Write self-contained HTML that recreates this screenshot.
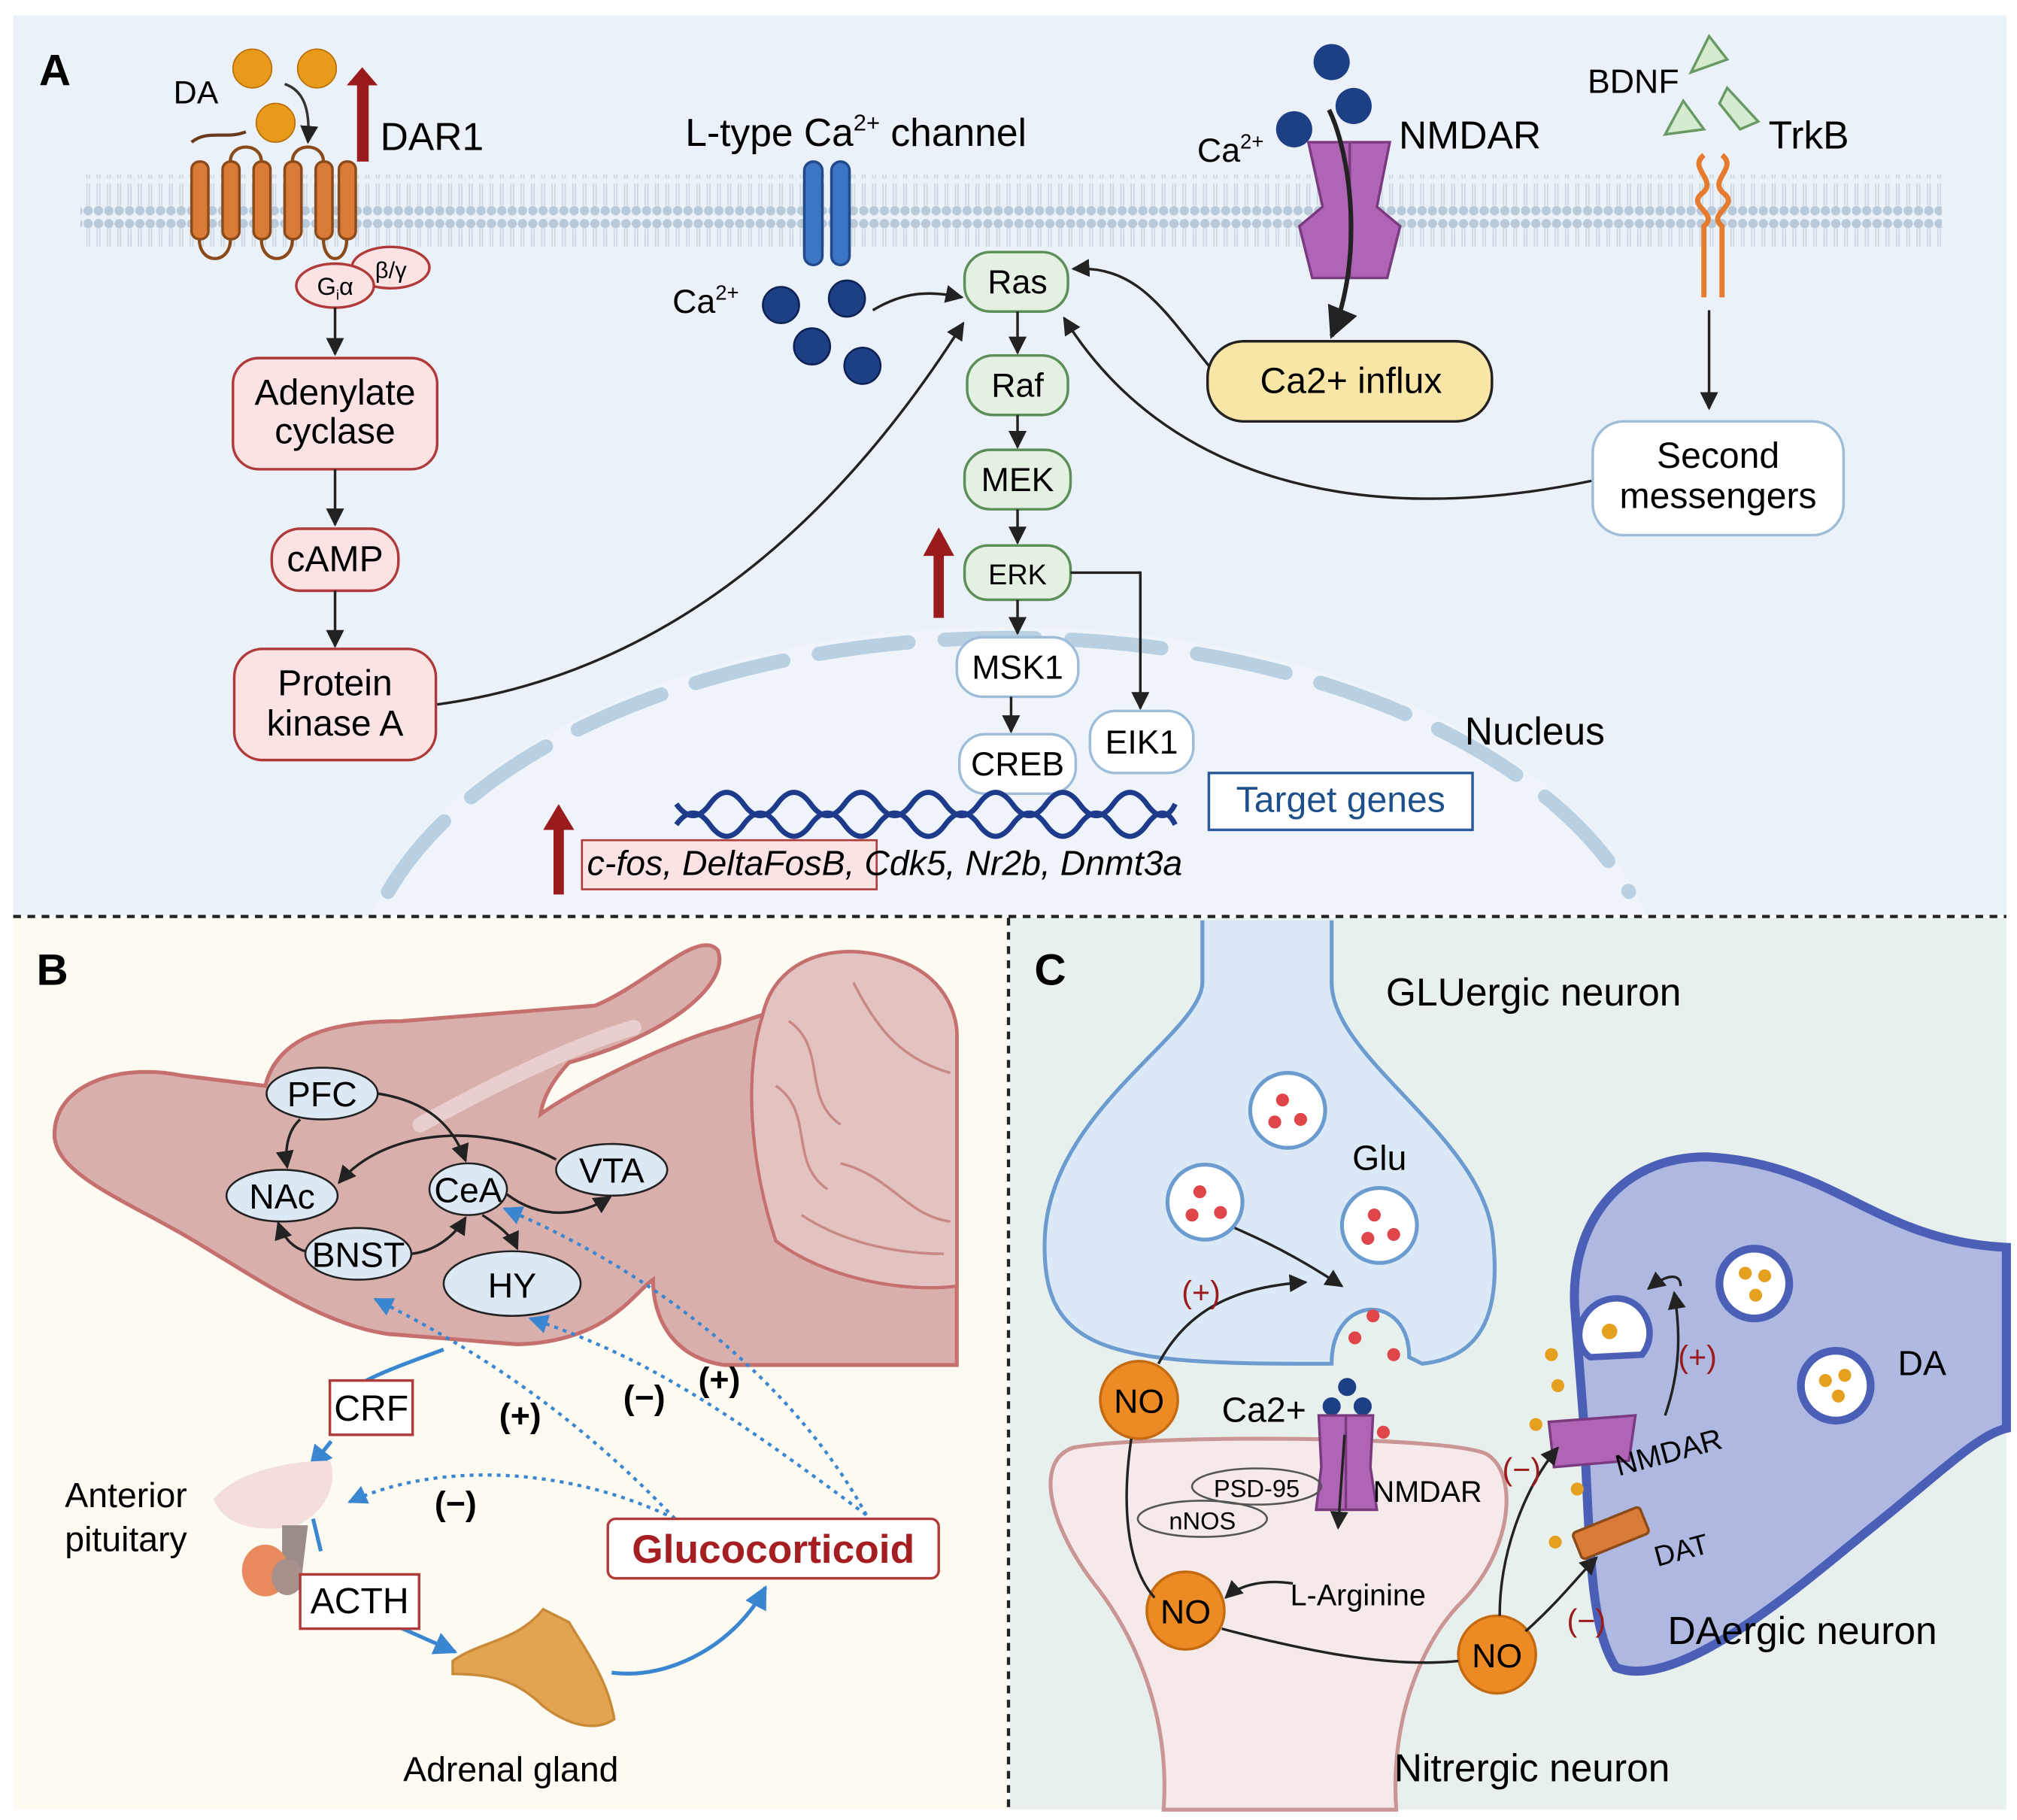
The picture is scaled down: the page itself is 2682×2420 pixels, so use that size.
<!DOCTYPE html>
<html><head><meta charset="utf-8"><style>html,body{margin:0;padding:0;background:#fff}svg{display:block}text{font-family:"Liberation Sans",sans-serif}</style></head><body>
<svg width="2682" height="2420" viewBox="0 0 1560 1408" xmlns="http://www.w3.org/2000/svg">
<defs>
<marker id="ak" viewBox="0 0 10 10" refX="9" refY="5" markerWidth="7" markerHeight="7" orient="auto"><path d="M0,0L10,5L0,10z" fill="#222"/></marker>
<marker id="ab" viewBox="0 0 10 10" refX="9" refY="5" markerWidth="6" markerHeight="6" orient="auto"><path d="M0,0L10,5L0,10z" fill="#3a86d0"/></marker>
<pattern id="lip" width="8" height="56" patternUnits="userSpaceOnUse"><circle cx="4" cy="5" r="3.6" fill="#b9c9d8"/><circle cx="4" cy="51" r="3.6" fill="#b9c9d8"/><line x1="3" y1="9" x2="3" y2="26" stroke="#c9d6e2" stroke-width="1"/><line x1="5" y1="9" x2="5" y2="26" stroke="#c9d6e2" stroke-width="1"/><line x1="3" y1="30" x2="3" y2="47" stroke="#c9d6e2" stroke-width="1"/><line x1="5" y1="30" x2="5" y2="47" stroke="#c9d6e2" stroke-width="1"/></pattern>
<clipPath id="clipA"><rect x="10" y="12" width="1542" height="696"/></clipPath>
</defs>
<rect width="1560" height="1408" fill="#fff"/>
<rect x="10" y="12" width="1542" height="696" fill="#eaf1f9"/>
<rect x="10" y="710" width="770" height="690" fill="#fdfaf1"/>
<rect x="781" y="710" width="771" height="690" fill="#e7f0ed"/>

<!-- ===== PANEL A ===== -->
<g clip-path="url(#clipA)">
<ellipse cx="780" cy="770" rx="505" ry="285" fill="#eef4fa"/>
<path d="M300,690 A505,285 0 0 1 1260,690" fill="none" stroke="#b9d0e2" stroke-width="11" stroke-dasharray="70,28" stroke-linecap="round"/>
</g>
<line x1="10" y1="709" x2="1552" y2="709" stroke="#222" stroke-width="2.5" stroke-dasharray="6,5"/>
<line x1="780" y1="710" x2="780" y2="1400" stroke="#222" stroke-width="2.5" stroke-dasharray="6,5"/>
<rect x="62" y="135" width="1440" height="56" fill="url(#lip)"/>
<text x="30" y="66" font-size="34" font-weight="bold">A</text>

<circle cx="195" cy="53" r="15" fill="#e89a1a" stroke="#b96f08"/>
<circle cx="245" cy="53" r="15" fill="#e89a1a" stroke="#b96f08"/>
<circle cx="213" cy="95" r="15" fill="#e89a1a" stroke="#b96f08"/>
<text x="134" y="80" font-size="25">DA</text>
<path d="M220,65 C235,70 240,85 238,110" fill="none" stroke="#333" stroke-width="2" marker-end="url(#ak)"/>
<path d="M190,102 C175,108 160,100 148,110" fill="none" stroke="#6b3a1c" stroke-width="2.5"/>
<g fill="#d97a36" stroke="#8b4a1a" stroke-width="2">
<rect x="148" y="125" width="13" height="60" rx="6"/><rect x="172" y="125" width="13" height="60" rx="6"/><rect x="196" y="125" width="13" height="60" rx="6"/><rect x="220" y="125" width="13" height="60" rx="6"/><rect x="244" y="125" width="13" height="60" rx="6"/><rect x="262" y="125" width="13" height="60" rx="6"/></g>
<path d="M154,185 C154,205 178,205 178,185 M202,185 C202,205 226,205 226,185 M250,185 C250,205 268,205 268,185 M178,125 C178,110 202,110 202,125 M226,125 C226,110 250,110 250,125" fill="none" stroke="#8b4a1a" stroke-width="2.5"/>
<rect x="276" y="60" width="9" height="65" fill="#9a1b1b"/><path d="M268,66 L280,52 L292,66z" fill="#9a1b1b"/>
<text x="294" y="116" font-size="30">DAR1</text>
<ellipse cx="302" cy="207" rx="30" ry="16" fill="#fbe3e3" stroke="#b03a3a" stroke-width="2"/>
<text x="290" y="215" font-size="18">β/γ</text>
<ellipse cx="259" cy="221" rx="30" ry="17" fill="#fbe3e3" stroke="#b03a3a" stroke-width="2"/>
<text x="245" y="228" font-size="19">G<tspan font-size="11" dy="4">i</tspan><tspan dy="-4">α</tspan></text>
<line x1="259" y1="238" x2="259" y2="274" stroke="#222" stroke-width="2" marker-end="url(#ak)"/>
<rect x="180" y="277" width="158" height="86" rx="20" fill="#fbe3e3" stroke="#b03a3a" stroke-width="2"/>
<text x="259" y="313" font-size="28" text-anchor="middle">Adenylate</text><text x="259" y="343" font-size="28" text-anchor="middle">cyclase</text>
<line x1="259" y1="363" x2="259" y2="406" stroke="#222" stroke-width="2" marker-end="url(#ak)"/>
<rect x="210" y="409" width="98" height="48" rx="22" fill="#fbe3e3" stroke="#b03a3a" stroke-width="2"/>
<text x="259" y="442" font-size="28" text-anchor="middle">cAMP</text>
<line x1="259" y1="457" x2="259" y2="500" stroke="#222" stroke-width="2" marker-end="url(#ak)"/>
<rect x="181" y="502" width="156" height="86" rx="22" fill="#fbe3e3" stroke="#b03a3a" stroke-width="2"/>
<text x="259" y="538" font-size="28" text-anchor="middle">Protein</text><text x="259" y="569" font-size="28" text-anchor="middle">kinase A</text>
<path d="M338,545 C520,520 650,400 745,250" fill="none" stroke="#222" stroke-width="2" marker-end="url(#ak)"/>

<text x="530" y="113" font-size="30">L-type Ca<tspan font-size="18" dy="-12">2+</tspan><tspan dy="12"> channel</tspan></text>
<rect x="622" y="125" width="14" height="80" rx="7" fill="#3b75c3" stroke="#22498a" stroke-width="2"/>
<rect x="643" y="125" width="14" height="80" rx="7" fill="#3b75c3" stroke="#22498a" stroke-width="2"/>
<text x="520" y="242" font-size="26">Ca<tspan font-size="16" dy="-10">2+</tspan></text>
<g fill="#1d3f85" stroke="#0d2255" stroke-width="1.5">
<circle cx="604" cy="236" r="14"/><circle cx="655" cy="231" r="14"/><circle cx="628" cy="268" r="14"/><circle cx="667" cy="283" r="14"/></g>
<path d="M675,240 C700,225 720,225 744,230" fill="none" stroke="#222" stroke-width="2" marker-end="url(#ak)"/>

<g fill="#e4f1e2" stroke="#5c8e58" stroke-width="2">
<rect x="746" y="195" width="80" height="46" rx="20"/><rect x="748" y="275" width="78" height="46" rx="20"/><rect x="746" y="348" width="82" height="46" rx="20"/><rect x="746" y="422" width="82" height="42" rx="18"/></g>
<text x="787" y="227" font-size="26" text-anchor="middle">Ras</text>
<text x="787" y="307" font-size="26" text-anchor="middle">Raf</text>
<text x="787" y="380" font-size="26" text-anchor="middle">MEK</text>
<text x="787" y="452" font-size="22" text-anchor="middle">ERK</text>
<g stroke="#222" stroke-width="2"><line x1="787" y1="241" x2="787" y2="273" marker-end="url(#ak)"/><line x1="787" y1="321" x2="787" y2="346" marker-end="url(#ak)"/><line x1="787" y1="394" x2="787" y2="420" marker-end="url(#ak)"/><line x1="787" y1="464" x2="787" y2="490" marker-end="url(#ak)"/></g>
<path d="M828,443 L882,443 L882,548" fill="none" stroke="#222" stroke-width="2" marker-end="url(#ak)"/>
<rect x="722" y="426" width="8" height="52" fill="#9a1b1b"/><path d="M714,430 L726,408 L738,430z" fill="#9a1b1b"/>
<g fill="#fff" stroke="#9fbcd8" stroke-width="2">
<rect x="740" y="493" width="94" height="46" rx="20"/><rect x="742" y="568" width="90" height="46" rx="20"/><rect x="843" y="550" width="80" height="48" rx="20"/></g>
<text x="787" y="525" font-size="26" text-anchor="middle">MSK1</text>
<line x1="782" y1="539" x2="782" y2="566" stroke="#222" stroke-width="2" marker-end="url(#ak)"/>
<text x="787" y="600" font-size="26" text-anchor="middle">CREB</text>
<text x="883" y="583" font-size="26" text-anchor="middle">EIK1</text>
<text x="1133" y="576" font-size="30">Nucleus</text>
<rect x="935" y="598" width="204" height="44" fill="#fff" stroke="#2b5a9a" stroke-width="2"/>
<text x="1037" y="628" font-size="28" text-anchor="middle" fill="#1d4f8a">Target genes</text>
<path d="M523,622 Q536,640 549,622 T575,622 T601,622 T627,622 T653,622 T679,622 T705,622 T731,622 T757,622 T783,622 T809,622 T835,622 T861,622 T887,622 T909,622" fill="none" stroke="#1e3a8a" stroke-width="4"/>
<path d="M523,638 Q536,620 549,638 T575,638 T601,638 T627,638 T653,638 T679,638 T705,638 T731,638 T757,638 T783,638 T809,638 T835,638 T861,638 T887,638 T909,638" fill="none" stroke="#1e3a8a" stroke-width="4"/>
<rect x="428" y="640" width="8" height="52" fill="#9a1b1b"/><path d="M420,642 L432,622 L444,642z" fill="#9a1b1b"/>
<rect x="450" y="650" width="228" height="38" fill="#fbe3e3" stroke="#b03a3a" stroke-width="1.5"/>
<text x="454" y="677" font-size="27" font-style="italic">c-fos, DeltaFosB, Cdk5, Nr2b, Dnmt3a</text>

<g fill="#1d3f85"><circle cx="1030" cy="48" r="14"/><circle cx="1047" cy="82" r="14"/><circle cx="1001" cy="100" r="14"/></g>
<text x="926" y="125" font-size="26">Ca<tspan font-size="16" dy="-10">2+</tspan></text>
<text x="1082" y="115" font-size="30">NMDAR</text>
<path d="M1012,110 L1075,110 L1065,160 L1083,175 L1073,215 L1015,215 L1005,175 L1023,160z" fill="#b064b5" stroke="#7a3a80" stroke-width="2"/>
<line x1="1044" y1="110" x2="1044" y2="215" stroke="#7a3a80" stroke-width="2"/>
<path d="M1028,85 C1045,120 1055,200 1030,260" fill="none" stroke="#222" stroke-width="3.5" marker-end="url(#ak)"/>
<rect x="934" y="264" width="220" height="62" rx="28" fill="#f9e6a6" stroke="#222" stroke-width="2"/>
<text x="1045" y="304" font-size="28" text-anchor="middle">Ca2+ influx</text>
<path d="M935,283 C900,240 880,205 830,208" fill="none" stroke="#222" stroke-width="2" marker-end="url(#ak)"/>

<text x="1228" y="72" font-size="26">BDNF</text>
<g fill="#d5ebcf" stroke="#6a9a64" stroke-width="2"><path d="M1308,56 L1322,28 L1336,46z"/><path d="M1288,104 L1302,78 L1318,100z"/><path d="M1330,80 L1346,100 L1360,94 L1336,68z"/></g>
<text x="1368" y="115" font-size="30">TrkB</text>
<path d="M1318,120 C1305,130 1330,140 1316,150 C1305,160 1330,165 1318,175 L1318,230 M1332,120 C1345,130 1320,140 1334,150 C1345,160 1320,165 1332,175 L1332,230" fill="none" stroke="#e57b2e" stroke-width="4"/>
<line x1="1322" y1="240" x2="1322" y2="316" stroke="#222" stroke-width="2" marker-end="url(#ak)"/>
<rect x="1232" y="326" width="194" height="88" rx="24" fill="#fff" stroke="#9fbcd8" stroke-width="2"/>
<text x="1329" y="362" font-size="28" text-anchor="middle">Second</text><text x="1329" y="393" font-size="28" text-anchor="middle">messengers</text>
<path d="M1231,372 C1050,410 900,370 823,246" fill="none" stroke="#222" stroke-width="2" marker-end="url(#ak)"/>

<!-- ===== PANEL B ===== -->
<text x="28" y="762" font-size="34" font-weight="bold">B</text>
<path d="M42,880 C40,840 90,822 140,832 L205,840 C215,800 260,790 310,790 L460,778 C500,762 540,718 555,735 C565,760 520,800 440,822 C428,835 420,848 418,862 C445,842 520,805 560,795 L590,785 C600,740 650,725 700,745 C735,760 740,790 740,800 L740,1056 L560,1056 C520,1050 505,1020 505,990 C490,1000 470,1038 400,1040 L300,1032 C250,1025 200,990 150,960 C100,930 45,910 42,880 Z" fill="#d9afac" stroke="#c5706e" stroke-width="3"/>
<path d="M590,785 C600,740 650,725 700,745 C735,760 740,790 740,800 L740,995 C700,1000 640,990 600,960 C580,900 575,830 590,785 Z" fill="#e2c3c1" stroke="#c5706e" stroke-width="2.5"/>
<path d="M610,790 C640,810 620,850 650,870 M600,840 C630,860 610,900 640,920 M660,760 C680,800 700,820 735,830 M650,900 C690,910 700,940 735,945 M620,940 C650,960 690,970 730,970" fill="none" stroke="#c88886" stroke-width="2"/>
<path d="M325,870 C380,840 440,810 490,795" stroke="#e8cfcd" stroke-width="12" fill="none" stroke-linecap="round"/>
<g fill="#dce9f5" stroke="#222" stroke-width="1.5">
<ellipse cx="249" cy="846" rx="43" ry="20"/><ellipse cx="218" cy="925" rx="43" ry="20"/><ellipse cx="362" cy="920" rx="30" ry="20"/><ellipse cx="473" cy="905" rx="43" ry="20"/><ellipse cx="277" cy="970" rx="41" ry="20"/><ellipse cx="396" cy="993" rx="53" ry="25"/></g>
<g font-size="27" text-anchor="middle"><text x="249" y="856">PFC</text><text x="218" y="935">NAc</text><text x="362" y="930">CeA</text><text x="473" y="915">VTA</text><text x="277" y="980">BNST</text><text x="396" y="1004">HY</text></g>
<g fill="none" stroke="#222" stroke-width="2">
<path d="M232,866 C222,875 220,890 222,903" marker-end="url(#ak)"/>
<path d="M292,846 C330,852 350,870 360,898" marker-end="url(#ak)"/>
<path d="M430,897 C380,870 300,870 262,915" marker-end="url(#ak)"/>
<path d="M392,924 C420,945 450,940 472,926" marker-end="url(#ak)"/>
<path d="M373,940 C385,948 395,955 400,966" marker-end="url(#ak)"/>
<path d="M318,970 C335,968 350,958 360,942" marker-end="url(#ak)"/>
<path d="M236,968 C225,965 218,955 215,946" marker-end="url(#ak)"/>
</g>
<g fill="none" stroke="#3a86d0" stroke-width="2.5" stroke-dasharray="3,4">
<path d="M670,1172 C620,1080 520,990 390,935" marker-end="url(#ab)"/>
<path d="M670,1172 C560,1090 500,1050 410,1020" marker-end="url(#ab)"/>
<path d="M522,1175 C450,1100 380,1050 290,1005" marker-end="url(#ab)"/>
<path d="M522,1175 C440,1135 340,1130 270,1162" marker-end="url(#ab)"/>
</g>
<g font-size="26" font-weight="bold"><text x="386" y="1104">(+)</text><text x="482" y="1090">(−)</text><text x="540" y="1076">(+)</text><text x="336" y="1172">(−)</text></g>
<g fill="none" stroke="#3a86d0" stroke-width="3">
<path d="M343,1044 C300,1060 270,1070 264,1085"/>
<path d="M256,1115 L240,1135" marker-end="url(#ab)"/>
<path d="M242,1175 L248,1200"/>
<path d="M300,1255 L352,1278" marker-end="url(#ab)"/>
<path d="M473,1294 C520,1300 570,1270 592,1228" marker-end="url(#ab)"/>
</g>
<rect x="255" y="1068" width="64" height="42" fill="#fff" stroke="#b03a3a" stroke-width="2"/><text x="287" y="1099" font-size="28" text-anchor="middle">CRF</text>
<path d="M165,1160 C180,1140 220,1130 255,1130 C262,1150 250,1170 230,1180 C210,1185 175,1185 165,1160Z" fill="#f3dedd"/>
<path d="M218,1180 L238,1180 L232,1230 L218,1232z" fill="#9c8c88"/>
<ellipse cx="205" cy="1215" rx="18" ry="20" fill="#e98a5e"/>
<ellipse cx="222" cy="1220" rx="12" ry="14" fill="#a8918c"/>
<text x="50" y="1166" font-size="27">Anterior</text><text x="50" y="1200" font-size="27">pituitary</text>
<rect x="232" y="1218" width="92" height="42" fill="#fff" stroke="#b03a3a" stroke-width="2"/><text x="278" y="1248" font-size="28" text-anchor="middle">ACTH</text>
<path d="M350,1285 C370,1270 400,1270 420,1245 L440,1255 C455,1280 470,1300 475,1330 C460,1340 440,1335 420,1320 C400,1300 380,1295 350,1295Z" fill="#e3a452" stroke="#c98a38" stroke-width="2"/>
<text x="395" y="1378" font-size="27" text-anchor="middle">Adrenal gland</text>
<rect x="470" y="1175" width="256" height="46" rx="6" fill="#fff" stroke="#b03a3a" stroke-width="2"/>
<text x="598" y="1209" font-size="31" font-weight="bold" text-anchor="middle" fill="#a41e22">Glucocorticoid</text>

<!-- ===== PANEL C ===== -->
<text x="800" y="762" font-size="34" font-weight="bold">C</text>
<path d="M930,712 L930,760 C930,800 810,860 808,960 C806,1040 850,1055 1000,1055 L1030,1055 C1030,1000 1090,1000 1090,1050 L1100,1055 C1150,1050 1160,1010 1155,960 C1150,880 1030,820 1030,760 L1030,712" fill="#dbe8f5" stroke="#6c9bd0" stroke-width="3"/>
<text x="1072" y="778" font-size="30">GLUergic neuron</text>
<text x="1046" y="905" font-size="27">Glu</text>
<g fill="#fff" stroke="#6c9bd0" stroke-width="3"><circle cx="996" cy="859" r="29"/><circle cx="932" cy="930" r="29"/><circle cx="1067" cy="948" r="29"/></g>
<g fill="#e0454a"><circle cx="992" cy="851" r="5"/><circle cx="986" cy="868" r="5"/><circle cx="1006" cy="866" r="5"/><circle cx="928" cy="922" r="5"/><circle cx="922" cy="940" r="5"/><circle cx="944" cy="938" r="5"/><circle cx="1063" cy="940" r="5"/><circle cx="1058" cy="958" r="5"/><circle cx="1078" cy="955" r="5"/><circle cx="1062" cy="1018" r="5"/><circle cx="1048" cy="1035" r="5"/><circle cx="1078" cy="1048" r="5"/><circle cx="1070" cy="1108" r="5"/></g>
<path d="M955,950 C990,965 1015,980 1038,995" fill="none" stroke="#222" stroke-width="2" marker-end="url(#ak)"/>
<path d="M900,1400 C905,1330 880,1270 850,1230 C810,1180 800,1130 830,1120 C880,1110 1120,1110 1150,1125 C1175,1140 1170,1200 1130,1240 C1100,1270 1075,1330 1080,1400 Z" fill="#f6e9e9" stroke="#c99595" stroke-width="3"/>
<text x="1185" y="1378" font-size="30" text-anchor="middle">Nitrergic neuron</text>
<path d="M1552,965 C1450,960 1420,900 1320,895 C1250,895 1215,950 1218,1010 L1225,1100 C1230,1200 1230,1260 1250,1290 C1300,1310 1400,1220 1450,1180 C1500,1140 1530,1110 1552,1105 Z" fill="#aeb8e0" stroke="#4a5fb5" stroke-width="7"/>
<path d="M1230,1050 C1215,1040 1220,1010 1245,1005 C1270,1000 1285,1030 1270,1048 Z" fill="#fff" stroke="#4a5fb5" stroke-width="5"/>
<circle cx="1245" cy="1030" r="6" fill="#e5a020"/>
<g fill="#fff" stroke="#4a5fb5" stroke-width="6"><circle cx="1357" cy="993" r="27"/><circle cx="1420" cy="1072" r="27"/></g>
<g fill="#e5a020"><circle cx="1350" cy="985" r="5"/><circle cx="1365" cy="987" r="5"/><circle cx="1358" cy="1002" r="5"/><circle cx="1412" cy="1068" r="5"/><circle cx="1427" cy="1064" r="5"/><circle cx="1422" cy="1080" r="5"/><circle cx="1200" cy="1048" r="5"/><circle cx="1205" cy="1072" r="5"/><circle cx="1188" cy="1102" r="5"/><circle cx="1220" cy="1152" r="5"/><circle cx="1203" cy="1193" r="5"/></g>
<text x="1468" y="1064" font-size="27">DA</text>
<text x="1290" y="1272" font-size="30">DAergic neuron</text>
<path d="M1288,1095 C1300,1060 1300,1030 1295,1000" fill="none" stroke="#222" stroke-width="2" marker-end="url(#ak)"/>
<path d="M1300,995 C1300,985 1290,985 1275,997" fill="none" stroke="#222" stroke-width="2" marker-end="url(#ak)"/>
<text x="1298" y="1058" font-size="24" fill="#9a1b1b">(+)</text>
<path d="M1198,1100 L1265,1095 L1260,1130 L1202,1135z" fill="#b064b5" stroke="#7a3a80" stroke-width="2"/>
<text x="1252" y="1142" font-size="23" transform="rotate(-15 1252 1142)">NMDAR</text>
<rect x="1218" y="1175" width="56" height="22" rx="3" fill="#d97a36" stroke="#8b4a1a" stroke-width="2" transform="rotate(-22 1246 1186)"/>
<text x="1282" y="1212" font-size="22" transform="rotate(-15 1282 1212)">DAT</text>
<g fill="#1d3f85"><circle cx="1042" cy="1073" r="7"/><circle cx="1030" cy="1088" r="7"/><circle cx="1054" cy="1088" r="7"/></g>
<text x="945" y="1100" font-size="27">Ca2+</text>
<path d="M1020,1095 L1062,1095 L1060,1135 L1065,1168 L1018,1168 L1022,1135z" fill="#b064b5" stroke="#7a3a80" stroke-width="2"/>
<line x1="1041" y1="1095" x2="1041" y2="1168" stroke="#7a3a80" stroke-width="2"/>
<path d="M1040,1110 L1035,1182" stroke="#222" stroke-width="2" marker-end="url(#ak)"/>
<text x="1062" y="1162" font-size="23">NMDAR</text>
<ellipse cx="972" cy="1150" rx="50" ry="14" fill="none" stroke="#555" stroke-width="1.5"/><text x="972" y="1158" font-size="19" text-anchor="middle">PSD-95</text>
<ellipse cx="930" cy="1175" rx="50" ry="14" fill="none" stroke="#555" stroke-width="1.5"/><text x="930" y="1183" font-size="19" text-anchor="middle">nNOS</text>
<text x="998" y="1242" font-size="23">L-Arginine</text>
<path d="M1000,1225 C980,1222 960,1225 948,1236" fill="none" stroke="#222" stroke-width="2" marker-end="url(#ak)"/>
<g fill="#ec8a24" stroke="#c46a10" stroke-width="2"><circle cx="881" cy="1083" r="30"/><circle cx="917" cy="1246" r="30"/><circle cx="1158" cy="1280" r="30"/></g>
<g font-size="26" text-anchor="middle"><text x="881" y="1093">NO</text><text x="917" y="1256">NO</text><text x="1158" y="1290">NO</text></g>
<g fill="none" stroke="#222" stroke-width="2">
<path d="M896,1055 C920,1010 960,995 1010,992" marker-end="url(#ak)"/>
<path d="M875,1113 C868,1160 870,1210 893,1236"/>
<path d="M945,1260 C1020,1280 1080,1290 1128,1285"/>
<path d="M1160,1250 C1160,1200 1180,1150 1205,1120" marker-end="url(#ak)"/>
<path d="M1180,1262 C1205,1240 1220,1220 1235,1205" marker-end="url(#ak)"/>
</g>
<g font-size="24" fill="#9a1b1b"><text x="914" y="1008">(+)</text><text x="1162" y="1145">(−)</text><text x="1212" y="1262">(−)</text></g>
</svg>
</body></html>
